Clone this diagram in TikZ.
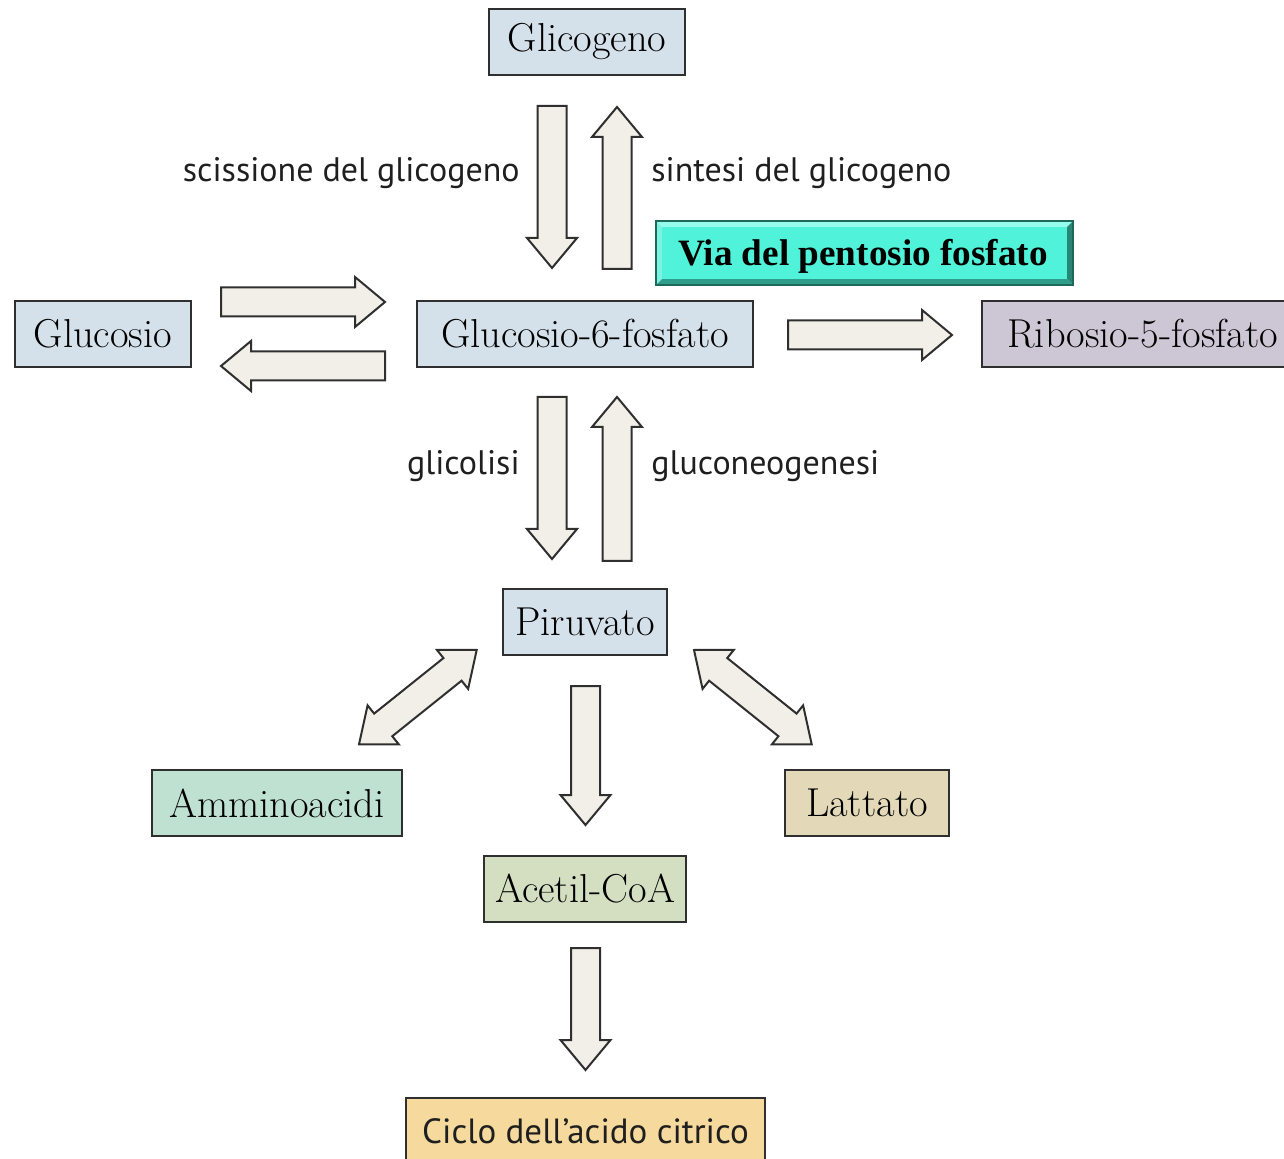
\documentclass[tikz,border=0pt]{standalone}
\usepackage{fontspec}
\newfontfamily\labfont{PT Sans}
\newfontfamily\viafont{Liberation Serif}
\definecolor{boxblue}{HTML}{D5E1EA}
\definecolor{boxlav}{HTML}{CDC7D5}
\definecolor{boxmint}{HTML}{BFE1D1}
\definecolor{boxtan}{HTML}{E3D8B7}
\definecolor{boxsage}{HTML}{D4DFC2}
\definecolor{boxgold}{HTML}{F6DA9D}
\definecolor{arrowfill}{HTML}{F1EFE7}
\definecolor{edgegray}{HTML}{2F2F30}
\definecolor{viaface}{HTML}{50F3DA}
\definecolor{viatop}{HTML}{94FDEE}
\definecolor{vialeft}{HTML}{7AF3E2}
\definecolor{viabot}{HTML}{2E9E8A}
\definecolor{viaright}{HTML}{2A8574}
\definecolor{viaedge}{HTML}{1D6A5D}
\tikzset{
  pics/sarr/.style={code={
    \path[arr] (0,-14.5) -- ({#1-30},-14.5) -- ({#1-30},-25) -- (#1,0)
      -- ({#1-30},25) -- ({#1-30},14.5) -- (0,14.5) -- cycle;}},
  pics/darr/.style={code={
    \path[arr] (0,0) -- (31,-25) -- (31,-14.5) -- ({#1-31},-14.5) -- ({#1-31},-25)
      -- (#1,0) -- ({#1-31},25) -- ({#1-31},14.5) -- (31,14.5) -- (31,25) -- cycle;}}
}
\begin{document}
\begin{tikzpicture}[x=0.5pt,y=-0.5pt,
  box/.style={draw=edgegray, line width=1pt, inner sep=0pt,
    font=\fontsize{20.2}{22}\selectfont, text=black},
  arr/.style={draw=edgegray, fill=arrowfill, line width=1pt, line join=miter},
  lbl/.style={font=\labfont\fontsize{17}{20}\selectfont, text=black!88, inner sep=0pt}]
\useasboundingbox (0,0) rectangle (1284,1159);

% boxes
\node[box, fill=boxblue, minimum width=98pt, minimum height=33pt] (gli) at (587,42) {Glicogeno};
\node[box, fill=boxblue, minimum width=88pt, minimum height=33pt] (glc) at (103,334) {Glucosio};
\node[box, fill=boxblue, minimum width=168pt, minimum height=33pt] (g6p) at (585,334) {Glucosio-6-fosfato};
\node[box, fill=boxlav, minimum width=155pt, minimum height=33pt, text width=155pt, align=left] (rib) at (1136.5,334) {\hspace{13pt}Ribosio-5-fosfato};
\node[box, fill=boxblue, minimum width=82pt, minimum height=33pt] (pir) at (585,622) {Piruvato};
\node[box, fill=boxmint, minimum width=125pt, minimum height=33pt] (amm) at (277,803) {Amminoacidi};
\node[box, fill=boxtan, minimum width=82pt, minimum height=33pt] (lat) at (867,803) {Lattato};
\node[box, fill=boxsage, minimum width=101pt, minimum height=33pt] (ace) at (585,889) {Acetil-CoA};
\node[box, fill=boxgold, minimum width=179.5pt, minimum height=36pt, text depth=0pt, anchor=north] (cic) at (585.5,1097) {};
\node[lbl, font=\labfont\fontsize{17.5}{20}\selectfont, anchor=base] (cictxt) at (585.5,1143) {Ciclo dell’acido citrico};

% pentose phosphate pathway bevelled box
\fill[viatop] (656,221) -- (1073,221) -- (1067,227) -- (662,227) -- cycle;
\fill[vialeft] (656,221) -- (662,227) -- (662,279) -- (656,285) -- cycle;
\fill[viabot] (656,285) -- (662,279) -- (1067,279) -- (1073,285) -- cycle;
\fill[viaright] (1073,221) -- (1067,227) -- (1067,279) -- (1073,285) -- cycle;
\fill[viaface] (662,227) rectangle (1067,279);
\draw[viaedge, line width=0.6pt] (656,221) rectangle (1073,285);
\node[font=\viafont\bfseries\fontsize{18.6}{20}\selectfont, inner sep=0pt, anchor=base] (via) at (863,266) {Via del pentosio fosfato};

% labels
\node[lbl, anchor=base east] (lsc) at (520,182) {scissione del glicogeno};
\node[lbl, anchor=base west] (lsi) at (651,182) {sintesi del glicogeno};
\node[lbl, anchor=base east] (lgl) at (520,475) {glicolisi};
\node[lbl, anchor=base west] (lgn) at (651,475) {gluconeogenesi};

% block arrows
\coordinate (a1) at (552,106);
\coordinate (a2) at (617,269);
\coordinate (a3) at (221,302);
\coordinate (a4) at (385,366);
\coordinate (a5) at (788,335);
\coordinate (a6) at (552,397);
\coordinate (a7) at (617,561);
\coordinate (a8) at (585.5,686);
\coordinate (a9) at (585.5,948);
\coordinate (d1) at (476.7,650);
\coordinate (d2) at (694,650);
\pic[rotate=-90] at (a1) {sarr=162};
\pic[rotate=90] at (a2) {sarr=162};
\pic at (a3) {sarr=164};
\pic[rotate=180] at (a4) {sarr=164};
\pic at (a5) {sarr=164};
\pic[rotate=-90] at (a6) {sarr=162};
\pic[rotate=90] at (a7) {sarr=164};
\pic[rotate=-90] at (a8) {sarr=139};
\pic[rotate=-90] at (a9) {sarr=122};
\pic[rotate=-141.3] at (d1) {darr=150.8};
\pic[rotate=-38.7] at (d2) {darr=150.8};
\end{tikzpicture}
\end{document}
